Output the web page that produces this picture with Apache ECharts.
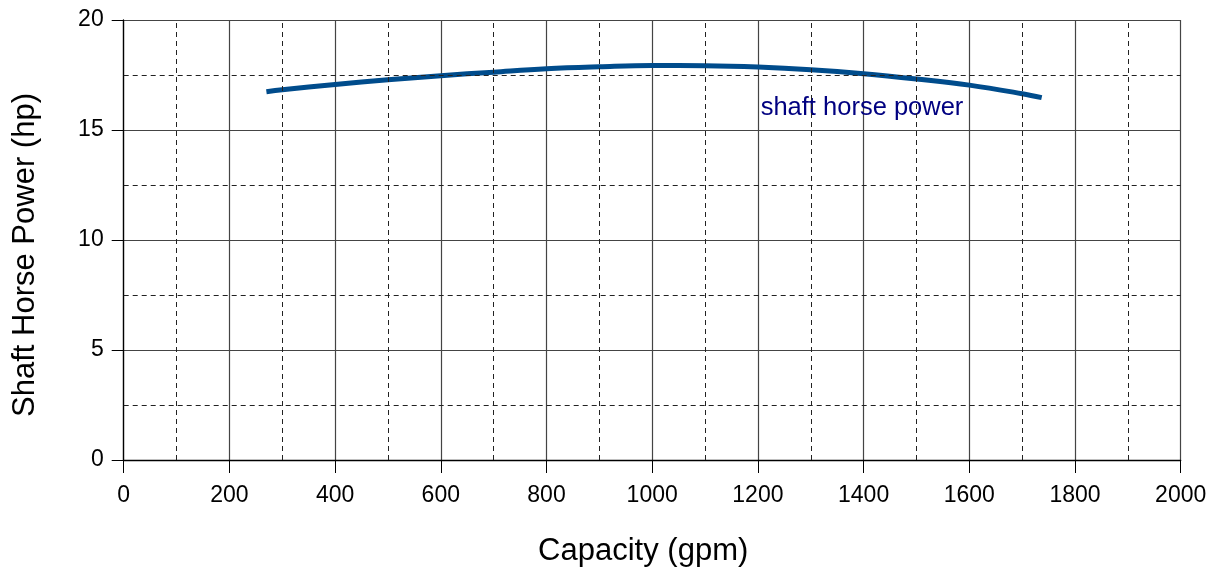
<!DOCTYPE html>
<html>
<head>
<meta charset="utf-8">
<script src="https://cdn.jsdelivr.net/npm/echarts@6/dist/echarts.min.js"></script>
<style>html,body{margin:0;padding:0;background:#fff}#c{width:1216px;height:572px}</style>
</head>
<body>
<div id="c"></div>
<script>
const capacity = [270, 300, 400, 500, 600, 700, 800, 900, 1000, 1100, 1200, 1300, 1400, 1500, 1600, 1700, 1737];
const shaftHP  = [16.74, 16.83, 17.07, 17.28, 17.47, 17.63, 17.78, 17.87, 17.93, 17.92, 17.86, 17.74, 17.56, 17.32, 17.04, 16.65, 16.47];
const seriesName = 'shaft horse power';
const labelAt = [1397, 16.02];
const xTitle = 'Capacity (gpm)';
const yTitle = 'Shaft Horse Power (hp)';

const chart = echarts.init(document.getElementById('c'));
const font = 'Liberation Sans, Arial, sans-serif';
function minorLines(axis, step, max) {
  const d = [];
  for (let v = step; v < max; v += step * 2) d.push(axis === 'x' ? { xAxis: v } : { yAxis: v });
  return d;
}
chart.setOption({
  animation: false,
  grid: { left: 123.7, right: 35.3, top: 20, bottom: 108, containLabel: false },
  xAxis: {
    type: 'value', min: 0, max: 2000, interval: 200,
    name: xTitle, nameLocation: 'middle', nameGap: 76,
    nameTextStyle: { fontFamily: font, fontSize: 31, color: '#000', padding: [0, 18, 0, 0] },
    axisLine: { onZero: false, lineStyle: { color: '#000', width: 1.3 } },
    axisTick: { show: true, length: 13, lineStyle: { color: '#000' } },
    axisLabel: { fontFamily: font, fontSize: 23, color: '#000', margin: 24, formatter: v => String(v) },
    splitLine: { show: true, lineStyle: { color: '#444', width: 1.2 } }
  },
  yAxis: {
    type: 'value', min: 0, max: 20, interval: 5,
    name: yTitle, nameLocation: 'middle', nameGap: 83,
    nameTextStyle: { fontFamily: font, fontSize: 31, color: '#000', padding: [0, 30, 0, 0] },
    axisLine: { show: true, lineStyle: { color: '#000', width: 1.3 } },
    axisTick: { show: true, length: 12, lineStyle: { color: '#000' } },
    axisLabel: { fontFamily: font, fontSize: 23, color: '#000', margin: 20, formatter: v => String(v) },
    splitLine: { show: true, lineStyle: { color: '#444', width: 1.2 } }
  },
  series: [
    {
      type: 'line', name: seriesName,
      data: capacity.map((c, i) => [c, shaftHP[i]]),
      smooth: 0.4, showSymbol: false,
      lineStyle: { color: '#004C8C', width: 5 },
      markLine: {
        silent: true, symbol: 'none', label: { show: false },
        lineStyle: { type: [5, 4], color: '#222', width: 1 },
        data: minorLines('x', 100, 2000).concat(minorLines('y', 2.5, 20))
      },
      z: 3
    },
    {
      type: 'scatter', data: [labelAt], symbolSize: 0,
      itemStyle: { opacity: 1 },
      label: { show: true, position: 'inside', formatter: seriesName,
        fontFamily: font, fontSize: 25.5, color: '#000080' },
      z: 4
    }
  ]
});
</script>
</body>
</html>
